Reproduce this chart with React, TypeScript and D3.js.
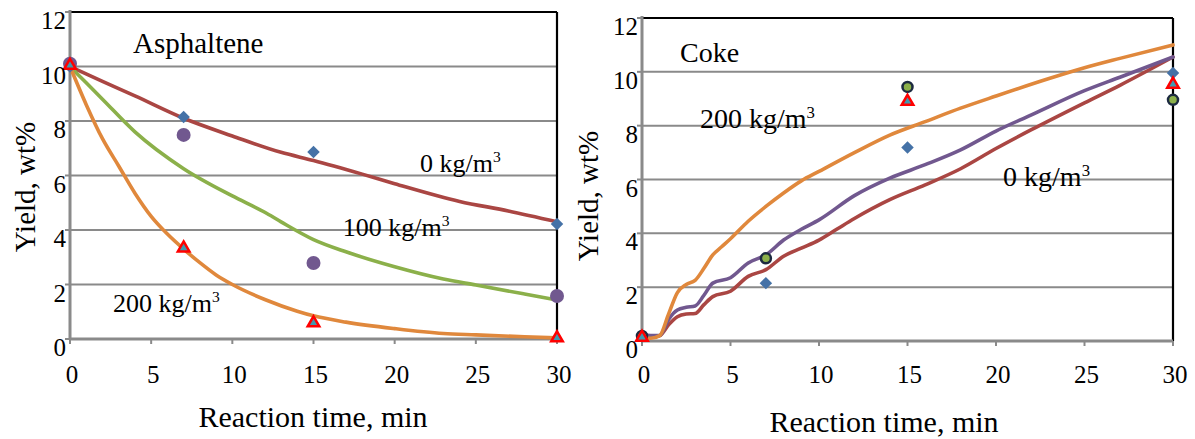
import { curveMonotoneX, line as d3Line, scaleLinear, symbol, symbolSquare, symbolTriangle } from "d3";

const timeTicks = [0, 5, 10, 15, 20, 25, 30];
const yieldTicks = [0, 2, 4, 6, 8, 10, 12];

// Asphaltene: measured points
const asphObsTime = [0, 7, 15, 30];
const asphObs0 = [10.0, 8.15, 6.86, 4.22];
const asphObs100 = [10.1, 7.49, 2.79, 1.58];
const asphObs200 = [10.0, 3.3, 0.55, 0.0];

// Asphaltene: model curves
const asphFit0Time = [0, 2, 4, 7, 10, 13, 15, 18, 20, 24, 27, 30];
const asphFit0 = [10, 9.45, 8.92, 8.1, 7.45, 6.85, 6.55, 6.05, 5.7, 5.05, 4.7, 4.3];
const asphFit100Time = [0, 1, 2, 4, 7, 10, 12, 13, 15, 17, 20, 23, 25, 28, 30];
const asphFit100 = [10, 9.4, 8.8, 7.6, 6.25, 5.25, 4.65, 4.3, 3.65, 3.2, 2.65, 2.2, 1.98, 1.65, 1.43];
const asphFit200Time = [0, 1, 2, 3, 4, 5, 6, 7, 8, 9, 10, 12, 14, 15, 17, 20, 23, 25, 28, 30];
const asphFit200 = [10, 8.6, 7.35, 6.35, 5.35, 4.5, 3.85, 3.3, 2.8, 2.35, 2.0, 1.45, 1.02, 0.85, 0.62, 0.38, 0.2, 0.15, 0.08, 0.04];

// Coke: measured points
const cokeObsTime = [0, 7, 15, 30];
const cokeObs0 = [0.2, 2.15, 7.19, 9.96];
const cokeObs100 = [0.19, 3.07, 9.44, 8.96];
const cokeObs200Time = [0, 15, 30];
const cokeObs200 = [0.1, 8.86, 9.5];

// Coke: model curves
const cokeFit0Time = [0, 0.5, 1, 1.5, 2, 2.5, 3, 3.5, 4, 5, 6, 7, 8, 9, 10, 11, 12, 14, 16, 18, 20, 22, 25, 27, 30];
const cokeFit0 = [0.2, 0.15, 0.2, 0.6, 0.9, 1.0, 1.02, 1.35, 1.65, 1.85, 2.4, 2.65, 3.15, 3.45, 3.75, 4.15, 4.55, 5.25, 5.8, 6.4, 7.15, 7.85, 8.85, 9.5, 10.55];
const cokeFit100Time = [0, 0.5, 1, 1.5, 2, 2.5, 3, 3.5, 4, 5, 6, 7, 8, 9, 10, 12, 14, 16, 18, 20, 22, 25, 27, 30];
const cokeFit100 = [0.25, 0.2, 0.2, 0.8, 1.15, 1.25, 1.3, 1.7, 2.15, 2.35, 2.9, 3.2, 3.75, 4.15, 4.5, 5.4, 6.05, 6.55, 7.1, 7.8, 8.4, 9.3, 9.8, 10.55];
const cokeFit200Time = [0, 0.5, 1, 1.5, 2, 2.5, 3, 3.5, 4, 4.5, 5, 6, 7, 8, 9, 10, 12, 14, 16, 18, 20, 23, 25, 27, 30];
const cokeFit200 = [0.15, 0.1, 0.2, 1.0, 1.8, 2.1, 2.25, 2.7, 3.2, 3.5, 3.8, 4.45, 5.0, 5.5, 5.95, 6.3, 7.0, 7.65, 8.15, 8.65, 9.1, 9.75, 10.15, 10.5, 11.0];

const FONT = "'Liberation Serif', 'Times New Roman', serif";
const GRID = "#8a8a8a";
const RED = "#aa4643";
const GREEN = "#8bb04a";
const ORANGE = "#e0883c";
const PURPLE = "#71588f";
const BLUE = "#4572a7";
const TEAL = "#4198af";

type Curve = { time: number[]; values: number[]; color: string };
type Obs = { time: number[]; values: number[]; shape: "diamond" | "circle" | "triangle"; fill: string; stroke?: string; r: number };
type Note = { t: number; v: number; text: string; sup?: string; size: number };

interface PanelProps {
  xRange: [number, number];
  yRange: [number, number];
  curves: Curve[];
  obs: Obs[];
  notes: Note[];
  xTitle: { x: number; y: number };
  yTitle: { x: number; y: number };
  xLabelY: number;
}

function zip(a: number[], b: number[]): [number, number][] {
  return a.map((t, i) => [t, b[i]]);
}

function Panel({ xRange, yRange, curves, obs, notes, xTitle, yTitle, xLabelY }: PanelProps) {
  const x = scaleLinear().domain([0, 30]).range(xRange);
  const y = scaleLinear().domain([0, 12]).range(yRange);
  const path = d3Line<[number, number]>()
    .x((d) => x(d[0]))
    .y((d) => y(d[1]))
    .curve(curveMonotoneX);
  const diamond = symbol().type(symbolSquare).size(78)();
  const tri = symbol().type(symbolTriangle).size(58)();

  return (
    <g>
      {yieldTicks.slice(1, -1).map((v) => (
        <line key={v} x1={x(0)} x2={x(30)} y1={y(v)} y2={y(v)} stroke={GRID} strokeWidth={2} />
      ))}
      <line x1={x(0)} x2={x(30)} y1={y(12)} y2={y(12)} stroke="#000" strokeWidth={2.2} />
      <line x1={x(30)} x2={x(30)} y1={y(12)} y2={y(0)} stroke="#000" strokeWidth={2.2} />
      {yieldTicks.map((v) => (
        <line key={v} x1={x(0) - 5} x2={x(0)} y1={y(v)} y2={y(v)} stroke={GRID} strokeWidth={2} />
      ))}
      {timeTicks.map((t) => (
        <line key={t} x1={x(t)} x2={x(t)} y1={y(0)} y2={y(0) + 5} stroke={GRID} strokeWidth={2} />
      ))}
      <line x1={x(0)} x2={x(0)} y1={y(12) - 2} y2={y(0) + 1} stroke={GRID} strokeWidth={3} />
      <line x1={x(0)} x2={x(30)} y1={y(0)} y2={y(0)} stroke={GRID} strokeWidth={3} />

      {curves.map((c, i) => (
        <path key={i} d={path(zip(c.time, c.values)) ?? ""} fill="none" stroke={c.color} strokeWidth={3.6} strokeLinejoin="round" strokeLinecap="round" />
      ))}

      {obs.map((o, i) =>
        zip(o.time, o.values).map(([t, v], j) => {
          const cx = x(t);
          const cy = y(v);
          if (o.shape === "circle") {
            return <circle key={`${i}-${j}`} cx={cx} cy={cy} r={o.r} fill={o.fill} stroke={o.stroke ?? "none"} strokeWidth={2.5} />;
          }
          if (o.shape === "diamond") {
            return <path key={`${i}-${j}`} d={diamond ?? ""} transform={`translate(${cx},${cy}) rotate(45)`} fill={o.fill} />;
          }
          return <path key={`${i}-${j}`} d={tri ?? ""} transform={`translate(${cx},${cy - 1})`} fill={o.fill} stroke={o.stroke} strokeWidth={2.5} />;
        })
      )}

      {yieldTicks.map((v) => (
        <text key={v} x={x(0) - 4} y={y(v) + 17} textAnchor="end" fontSize={25} fontFamily={FONT}>
          {v}
        </text>
      ))}
      {timeTicks.map((t) => (
        <text key={t} x={x(t) + 2} y={xLabelY} textAnchor="middle" fontSize={25} fontFamily={FONT}>
          {t}
        </text>
      ))}
      <text x={xTitle.x} y={xTitle.y} textAnchor="middle" fontSize={30} fontFamily={FONT}>
        Reaction time, min
      </text>
      <text transform={`translate(${yTitle.x},${yTitle.y}) rotate(-90)`} textAnchor="middle" fontSize={29} fontFamily={FONT}>
        Yield, wt%
      </text>
      {notes.map((n, i) => (
        <text key={i} x={x(n.t)} y={y(n.v)} fontSize={n.size} fontFamily={FONT}>
          {n.text}
          {n.sup && (
            <tspan dy={-10} fontSize={n.size * 0.6}>
              {n.sup}
            </tspan>
          )}
        </text>
      ))}
    </g>
  );
}

export default function App() {
  return (
    <svg width={1195} height={439} style={{ position: "absolute", left: 0, top: 0, background: "#fff" }}>
      <Panel
        xRange={[70, 557]}
        yRange={[339, 12]}
        curves={[
          { time: asphFit0Time, values: asphFit0, color: RED },
          { time: asphFit100Time, values: asphFit100, color: GREEN },
          { time: asphFit200Time, values: asphFit200, color: ORANGE },
        ]}
        obs={[
          { time: asphObsTime, values: asphObs0, shape: "diamond", fill: BLUE, r: 5 },
          { time: asphObsTime, values: asphObs100, shape: "circle", fill: PURPLE, r: 7 },
          { time: asphObsTime, values: asphObs200, shape: "triangle", fill: TEAL, stroke: "#ff0000", r: 6 },
        ]}
        notes={[
          { t: 3.88, v: 10.5, text: "Asphaltene", size: 29 },
          { t: 21.56, v: 6.13, text: "0 kg/m", sup: "3", size: 26 },
          { t: 16.8, v: 3.78, text: "100 kg/m", sup: "3", size: 26 },
          { t: 2.65, v: 0.99, text: "200 kg/m", sup: "3", size: 26 },
        ]}
        xTitle={{ x: 313, y: 427 }}
        yTitle={{ x: 35, y: 187 }}
        xLabelY={383}
      />
      <Panel
        xRange={[642, 1173]}
        yRange={[341, 18]}
        curves={[
          { time: cokeFit0Time, values: cokeFit0, color: RED },
          { time: cokeFit100Time, values: cokeFit100, color: PURPLE },
          { time: cokeFit200Time, values: cokeFit200, color: ORANGE },
        ]}
        obs={[
          { time: cokeObsTime, values: cokeObs0, shape: "diamond", fill: BLUE, r: 5 },
          { time: cokeObsTime, values: cokeObs100, shape: "circle", fill: GREEN, stroke: "#1c2a40", r: 5 },
          { time: cokeObs200Time, values: cokeObs200, shape: "triangle", fill: TEAL, stroke: "#ff0000", r: 6 },
        ]}
        notes={[
          { t: 2.15, v: 10.37, text: "Coke", size: 28 },
          { t: 3.28, v: 7.93, text: "200 kg/m", sup: "3", size: 28 },
          { t: 20.4, v: 5.74, text: "0 kg/m", sup: "3", size: 28 },
        ]}
        xTitle={{ x: 884, y: 432 }}
        yTitle={{ x: 598, y: 196 }}
        xLabelY={383}
      />
    </svg>
  );
}
